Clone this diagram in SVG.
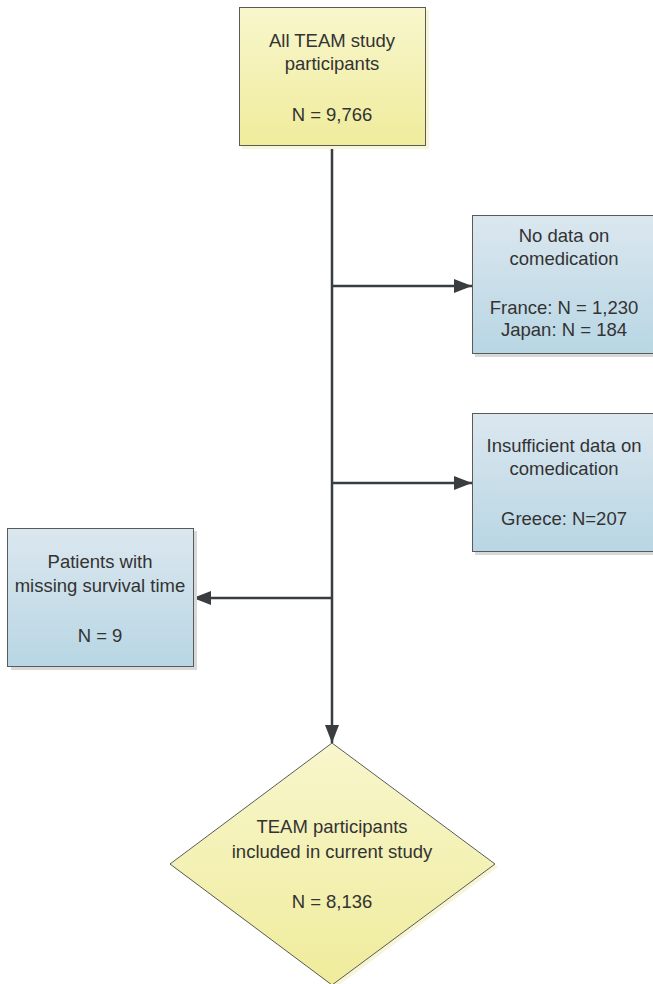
<svg xmlns="http://www.w3.org/2000/svg" width="653" height="984" viewBox="0 0 653 984">
<defs>
<linearGradient id="gy" x1="0" y1="0" x2="0" y2="1"><stop offset="0" stop-color="#f8f6cc"/><stop offset="1" stop-color="#efec9c"/></linearGradient>
<linearGradient id="gb" x1="0" y1="0" x2="0" y2="1"><stop offset="0" stop-color="#dbe7ef"/><stop offset="1" stop-color="#b8d6e4"/></linearGradient>
<marker id="ah" viewBox="0 0 18 14" refX="18" refY="7" markerWidth="18" markerHeight="14" markerUnits="userSpaceOnUse" orient="auto"><path d="M0,0 L18,7 L0,14 z" fill="#3a3d40"/></marker>
<style>
text{font-family:"Liberation Sans",Arial,sans-serif;font-size:18.5px;fill:#333;text-anchor:middle}
.y{fill:url(#gy);stroke:#5a5a5a;stroke-width:1}
.b{fill:url(#gb);stroke:#5a5a5a;stroke-width:1}
.sy{fill:#f7f5d8}
.sb{fill:#d8d8d8}
.c{stroke:#3a3d40;stroke-width:2.5;fill:none}
</style>
</defs>
<g id="connectors">
<line class="c" x1="332" y1="146" x2="332" y2="743" marker-end="url(#ah)"/>
<line class="c" x1="332" y1="286" x2="472" y2="286" marker-end="url(#ah)"/>
<line class="c" x1="332" y1="483" x2="472" y2="483" marker-end="url(#ah)"/>
<line class="c" x1="332" y1="598" x2="193" y2="598" marker-end="url(#ah)"/>
</g>
<g id="start">
<rect class="sy" x="242" y="10" width="187" height="139"/>
<rect class="y" x="239.5" y="7.5" width="186" height="138"/>
<text x="332" y="47">All TEAM study</text>
<text x="332" y="70">participants</text>
<text x="332" y="121">N = 9,766</text>
</g>
<g id="nodata">
<rect class="sb" x="475" y="218" width="184" height="139"/>
<rect class="b" x="472.5" y="215.5" width="184" height="138"/>
<text x="564" y="242">No data on</text>
<text x="564" y="265">comedication</text>
<text x="564" y="314">France: N = 1,230</text>
<text x="564" y="336">Japan: N = 184</text>
</g>
<g id="insufficient">
<rect class="sb" x="475" y="416" width="184" height="139"/>
<rect class="b" x="472.5" y="413.5" width="184" height="138"/>
<text x="564" y="452">Insufficient data on</text>
<text x="564" y="475">comedication</text>
<text x="564" y="525">Greece: N=207</text>
</g>
<g id="missing">
<rect class="sb" x="11" y="531" width="186" height="139"/>
<rect class="b" x="7.5" y="528.5" width="186" height="138"/>
<text x="100" y="568">Patients with</text>
<text x="100" y="592">missing survival time</text>
<text x="100" y="642">N = 9</text>
</g>
<g id="included">
<path class="sy" d="M335,746 L498,867 L335,988 L173,867 z"/>
<path class="y" d="M332,743 L495,864 L332,985 L170,864 z"/>
<text x="332" y="833">TEAM participants</text>
<text x="332" y="858">included in current study</text>
<text x="332" y="908">N = 8,136</text>
</g>
</svg>
